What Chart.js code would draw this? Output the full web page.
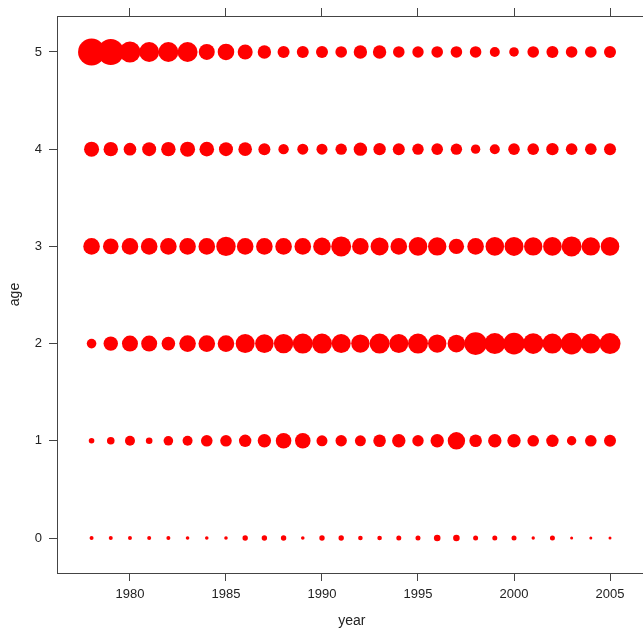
<!DOCTYPE html>
<html>
<head>
<meta charset="utf-8">
<script src="https://cdn.jsdelivr.net/npm/chart.js@4/dist/chart.umd.min.js"></script>
<style>
  html, body { margin: 0; padding: 0; background: #fff; overflow: hidden; }
  #wrap { width: 660px; height: 628px; }
</style>
</head>
<body>
<div id="wrap"><canvas id="bubbles"></canvas></div>
<script>
// categories
const years = [1978, 1979, 1980, 1981, 1982, 1983, 1984, 1985, 1986, 1987, 1988, 1989, 1990, 1991,
               1992, 1993, 1994, 1995, 1996, 1997, 1998, 1999, 2000, 2001, 2002, 2003, 2004, 2005];
const ages = [0, 1, 2, 3, 4, 5];
// bubble radius (px), one list per age
const sizeAge0 = [2, 2, 2, 2, 2, 1.8, 1.8, 1.8, 2.7, 2.7, 2.7, 1.8, 2.7, 2.7, 2.3, 2.3, 2.5, 2.5, 3.3, 3.3, 2.5, 2.5, 2.5, 1.7, 2.5, 1.5, 1.5, 1.5];
const sizeAge1 = [2.8, 3.8, 5, 3.3, 4.8, 5, 5.8, 5.8, 6.2, 6.7, 7.8, 7.8, 5.5, 5.7, 5.5, 6.3, 6.7, 5.7, 6.7, 8.7, 6.3, 6.7, 6.7, 5.8, 6.2, 4.7, 5.8, 6];
const sizeAge2 = [4.8, 7.2, 8, 8, 6.8, 8.3, 8.3, 8.3, 9.5, 9.3, 9.7, 10, 10, 9.5, 9.2, 10, 9.5, 10, 9.2, 8.8, 11.3, 10.5, 10.8, 10.3, 10, 10.8, 10, 10.5];
const sizeAge3 = [8.3, 7.8, 8.3, 8.3, 8.3, 8.3, 8.3, 9.7, 8.3, 8.3, 8.3, 8.3, 8.8, 10, 8.3, 9, 8.3, 9.3, 9.2, 7.7, 8.3, 9.3, 9.5, 9.2, 9.3, 10, 9.2, 9.3];
const sizeAge4 = [7.5, 7.2, 6.3, 7, 7.2, 7.5, 7.3, 7, 6.8, 6, 5.2, 5.5, 5.5, 5.7, 6.7, 6.2, 6, 5.7, 5.8, 5.7, 4.7, 5, 5.8, 5.8, 6.2, 5.8, 5.8, 6];
const sizeAge5 = [13.5, 13, 10.5, 10, 10, 10, 8, 8.3, 7.5, 6.7, 6, 6, 6, 5.8, 6.7, 6.7, 5.8, 5.7, 5.8, 5.8, 5.8, 5, 4.8, 5.8, 6, 5.8, 5.8, 6];
const sizes = [sizeAge0, sizeAge1, sizeAge2, sizeAge3, sizeAge4, sizeAge5];
// tick labels
const yearTicks = [1980, 1985, 1990, 1995, 2000, 2005];
const ageTicks = [0, 1, 2, 3, 4, 5];

const points = [];
ages.forEach((a, i) => {
  years.forEach((yr, j) => {
    points.push({ x: yr, y: a, r: sizes[i][j] });
  });
});

const axisCol = '#444';
const tickFont = { family: 'Liberation Sans, Arial, sans-serif', size: 13 };
const titleFont = { family: 'Liberation Sans, Arial, sans-serif', size: 14, lineHeight: 1 };
const xMin = 1976.2, xMax = 2006.9;

const ctx = document.getElementById('bubbles').getContext('2d');
const chart = new Chart(ctx, {
  type: 'bubble',
  data: {
    datasets: [{
      data: points,
      backgroundColor: '#ff0000',
      borderWidth: 0,
      hoverBorderWidth: 0
    }]
  },
  options: {
    responsive: true,
    maintainAspectRatio: false,
    animation: false,
    events: [],
    layout: { padding: { left: 0, right: 0, top: 0, bottom: 0 } },
    plugins: { legend: { display: false }, tooltip: { enabled: false } },
    scales: {
      x: {
        type: 'linear',
        position: 'bottom',
        min: xMin,
        max: xMax,
        afterBuildTicks: s => { s.ticks = yearTicks.map(v => ({ value: v })); },
        afterFit: s => { s.height = 55; },
        grid: { drawOnChartArea: false, tickLength: 8, color: axisCol },
        border: { color: axisCol, width: 1 },
        ticks: { padding: 6, color: '#222', font: tickFont, callback: v => String(v) },
        title: { display: true, text: 'year', color: '#222', font: titleFont, padding: { top: 0, bottom: 0 } }
      },
      xTop: {
        type: 'linear',
        position: 'top',
        min: xMin,
        max: xMax,
        afterBuildTicks: s => { s.ticks = yearTicks.map(v => ({ value: v })); },
        afterFit: s => { s.height = 16; },
        grid: { drawOnChartArea: false, tickLength: 8, color: axisCol },
        border: { color: axisCol, width: 1 },
        ticks: { color: 'rgba(0,0,0,0)', font: tickFont }
      },
      y: {
        type: 'linear',
        position: 'left',
        min: -0.36,
        max: 5.37,
        afterBuildTicks: s => { s.ticks = ageTicks.map(v => ({ value: v })); },
        afterFit: s => { s.width = 57; },
        grid: { drawOnChartArea: false, tickLength: 8, color: axisCol },
        border: { color: axisCol, width: 1 },
        ticks: { padding: 7, color: '#222', font: tickFont, callback: v => String(v) },
        title: { display: true, text: 'age', color: '#222', font: titleFont, padding: { top: 8, bottom: 0 } }
      }
    }
  }
});
</script>
</body>
</html>
